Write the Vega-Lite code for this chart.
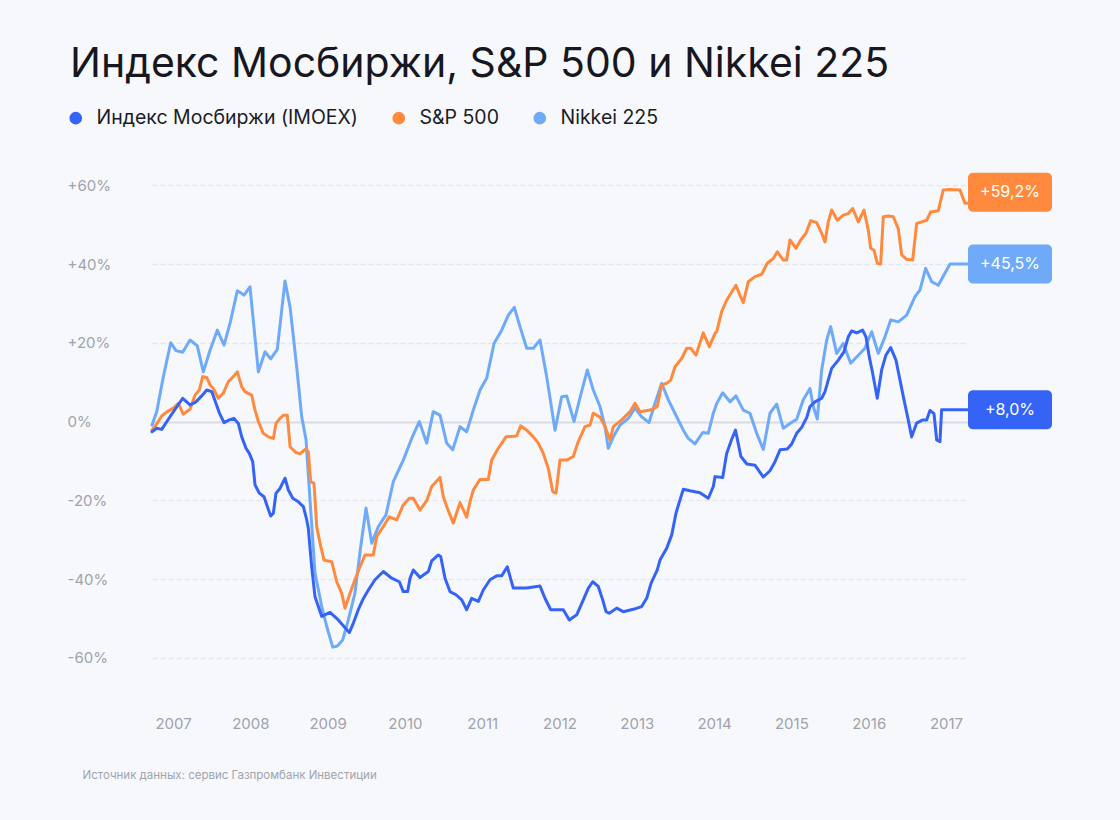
{
"$schema": "https://vega.github.io/schema/vega-lite/v6.json",
"width": 816, "height": 567,
"autosize": {"type": "none"},
"padding": {"left": 152, "top": 138, "right": 152, "bottom": 115},
"background": "#f7f8fc",
"config": {"view": {"stroke": null}, "font": "Inter"},
"title": {"text": "Индекс Мосбиржи, S&P 500 и Nikkei 225", "anchor": "start", "frame": "group", "dx": -82, "fontSize": 41, "font": "Inter", "fontWeight": 400, "color": "#16171f", "offset": 22},
"datasets": {
"imoex": [
{"t":2006.728,"v":-2.6},{"t":2006.789,"v":-1.7},{"t":2006.854,"v":-2.0},{"t":2006.961,"v":1.2},{"t":2007.125,"v":5.9},{"t":2007.220,"v":4.2},{"t":2007.298,"v":5.0},{"t":2007.371,"v":6.5},{"t":2007.436,"v":8.0},{"t":2007.501,"v":7.6},{"t":2007.556,"v":4.6},{"t":2007.599,"v":2.2},{"t":2007.660,"v":-0.3},{"t":2007.728,"v":0.4},{"t":2007.789,"v":0.8},{"t":2007.845,"v":-0.5},{"t":2007.889,"v":-3.9},{"t":2007.944,"v":-6.8},{"t":2007.987,"v":-8.1},{"t":2008.031,"v":-10.2},{"t":2008.061,"v":-16.1},{"t":2008.116,"v":-18.2},{"t":2008.177,"v":-19.1},{"t":2008.220,"v":-21.6},{"t":2008.264,"v":-24.0},{"t":2008.298,"v":-23.3},{"t":2008.332,"v":-18.2},{"t":2008.384,"v":-17.0},{"t":2008.449,"v":-14.4},{"t":2008.492,"v":-17.4},{"t":2008.549,"v":-19.5},{"t":2008.621,"v":-20.4},{"t":2008.686,"v":-21.6},{"t":2008.730,"v":-25.0},{"t":2008.750,"v":-27.1},{"t":2008.794,"v":-36.9},{"t":2008.837,"v":-44.5},{"t":2008.880,"v":-47.0},{"t":2008.924,"v":-49.5},{"t":2009.031,"v":-48.5},{"t":2009.138,"v":-50.4},{"t":2009.281,"v":-53.6},{"t":2009.333,"v":-51.2},{"t":2009.397,"v":-47.8},{"t":2009.454,"v":-45.3},{"t":2009.527,"v":-42.8},{"t":2009.613,"v":-40.2},{"t":2009.721,"v":-38.1},{"t":2009.829,"v":-39.8},{"t":2009.928,"v":-40.7},{"t":2009.979,"v":-43.2},{"t":2010.036,"v":-43.2},{"t":2010.066,"v":-39.8},{"t":2010.109,"v":-37.7},{"t":2010.195,"v":-39.6},{"t":2010.303,"v":-38.1},{"t":2010.347,"v":-35.4},{"t":2010.432,"v":-33.9},{"t":2010.463,"v":-34.3},{"t":2010.519,"v":-39.8},{"t":2010.583,"v":-43.2},{"t":2010.661,"v":-44.0},{"t":2010.735,"v":-45.3},{"t":2010.799,"v":-47.8},{"t":2010.864,"v":-44.9},{"t":2010.950,"v":-45.7},{"t":2011.014,"v":-42.8},{"t":2011.101,"v":-40.2},{"t":2011.188,"v":-39.2},{"t":2011.252,"v":-39.2},{"t":2011.325,"v":-36.9},{"t":2011.402,"v":-42.3},{"t":2011.576,"v":-42.3},{"t":2011.748,"v":-41.8},{"t":2011.812,"v":-44.9},{"t":2011.886,"v":-47.8},{"t":2012.049,"v":-47.8},{"t":2012.127,"v":-50.4},{"t":2012.223,"v":-49.1},{"t":2012.308,"v":-45.3},{"t":2012.373,"v":-42.3},{"t":2012.430,"v":-40.7},{"t":2012.502,"v":-41.9},{"t":2012.559,"v":-45.3},{"t":2012.602,"v":-48.3},{"t":2012.644,"v":-48.7},{"t":2012.740,"v":-47.4},{"t":2012.825,"v":-48.3},{"t":2012.955,"v":-47.7},{"t":2013.063,"v":-47.0},{"t":2013.128,"v":-44.9},{"t":2013.184,"v":-41.1},{"t":2013.265,"v":-37.7},{"t":2013.300,"v":-35.2},{"t":2013.387,"v":-32.2},{"t":2013.452,"v":-28.8},{"t":2013.507,"v":-23.3},{"t":2013.559,"v":-19.9},{"t":2013.602,"v":-17.2},{"t":2013.688,"v":-17.6},{"t":2013.818,"v":-18.1},{"t":2013.925,"v":-19.5},{"t":2013.990,"v":-16.5},{"t":2014.012,"v":-14.0},{"t":2014.111,"v":-14.2},{"t":2014.163,"v":-8.1},{"t":2014.228,"v":-4.5},{"t":2014.277,"v":-2.2},{"t":2014.347,"v":-8.9},{"t":2014.424,"v":-10.8},{"t":2014.529,"v":-11.1},{"t":2014.637,"v":-14.1},{"t":2014.723,"v":-12.5},{"t":2014.788,"v":-10.2},{"t":2014.853,"v":-7.2},{"t":2014.947,"v":-7.0},{"t":2015.004,"v":-5.7},{"t":2015.069,"v":-3.0},{"t":2015.133,"v":-1.5},{"t":2015.198,"v":1.0},{"t":2015.241,"v":3.8},{"t":2015.305,"v":5.0},{"t":2015.392,"v":5.9},{"t":2015.435,"v":7.6},{"t":2015.477,"v":10.5},{"t":2015.521,"v":13.5},{"t":2015.607,"v":15.6},{"t":2015.680,"v":17.7},{"t":2015.736,"v":21.5},{"t":2015.780,"v":23.0},{"t":2015.845,"v":22.5},{"t":2015.922,"v":23.2},{"t":2015.965,"v":21.5},{"t":2016.008,"v":16.4},{"t":2016.052,"v":12.2},{"t":2016.111,"v":5.9},{"t":2016.168,"v":13.1},{"t":2016.224,"v":16.9},{"t":2016.285,"v":18.8},{"t":2016.353,"v":15.6},{"t":2016.405,"v":10.5},{"t":2016.457,"v":5.5},{"t":2016.512,"v":0.4},{"t":2016.556,"v":-3.9},{"t":2016.621,"v":-0.4},{"t":2016.699,"v":0.4},{"t":2016.750,"v":0.4},{"t":2016.793,"v":2.8},{"t":2016.845,"v":2.0},{"t":2016.880,"v":-4.7},{"t":2016.922,"v":-5.1},{"t":2016.944,"v":3.0},{"t":2017.285,"v":3.0}
],
"sp": [
{"t":2006.728,"v":-2.2},{"t":2006.780,"v":-0.9},{"t":2006.854,"v":1.4},{"t":2006.926,"v":2.5},{"t":2007.004,"v":3.4},{"t":2007.069,"v":4.6},{"t":2007.133,"v":1.9},{"t":2007.220,"v":3.1},{"t":2007.285,"v":6.7},{"t":2007.340,"v":8.0},{"t":2007.384,"v":11.4},{"t":2007.436,"v":11.2},{"t":2007.479,"v":9.3},{"t":2007.521,"v":8.4},{"t":2007.586,"v":5.9},{"t":2007.651,"v":7.2},{"t":2007.715,"v":10.1},{"t":2007.780,"v":11.4},{"t":2007.832,"v":12.6},{"t":2007.889,"v":8.8},{"t":2007.931,"v":7.6},{"t":2008.018,"v":6.7},{"t":2008.061,"v":2.9},{"t":2008.104,"v":0.0},{"t":2008.168,"v":-3.0},{"t":2008.233,"v":-3.9},{"t":2008.298,"v":-4.3},{"t":2008.332,"v":-0.5},{"t":2008.375,"v":0.6},{"t":2008.427,"v":1.6},{"t":2008.479,"v":1.6},{"t":2008.514,"v":-6.4},{"t":2008.591,"v":-7.9},{"t":2008.643,"v":-8.2},{"t":2008.708,"v":-7.1},{"t":2008.750,"v":-7.7},{"t":2008.781,"v":-15.3},{"t":2008.824,"v":-15.7},{"t":2008.859,"v":-26.7},{"t":2008.902,"v":-30.9},{"t":2008.953,"v":-35.2},{"t":2009.053,"v":-35.6},{"t":2009.118,"v":-40.7},{"t":2009.182,"v":-43.6},{"t":2009.225,"v":-47.4},{"t":2009.290,"v":-43.6},{"t":2009.354,"v":-40.2},{"t":2009.419,"v":-36.9},{"t":2009.484,"v":-33.9},{"t":2009.591,"v":-33.9},{"t":2009.635,"v":-29.2},{"t":2009.721,"v":-26.7},{"t":2009.798,"v":-24.2},{"t":2009.894,"v":-25.0},{"t":2009.979,"v":-21.2},{"t":2010.057,"v":-19.5},{"t":2010.109,"v":-19.5},{"t":2010.195,"v":-22.5},{"t":2010.282,"v":-20.1},{"t":2010.347,"v":-16.5},{"t":2010.454,"v":-14.2},{"t":2010.497,"v":-19.1},{"t":2010.541,"v":-21.6},{"t":2010.626,"v":-25.8},{"t":2010.713,"v":-20.6},{"t":2010.799,"v":-24.3},{"t":2010.842,"v":-20.4},{"t":2010.885,"v":-17.4},{"t":2010.972,"v":-14.7},{"t":2011.079,"v":-14.7},{"t":2011.123,"v":-9.8},{"t":2011.208,"v":-6.8},{"t":2011.308,"v":-3.9},{"t":2011.446,"v":-3.7},{"t":2011.498,"v":-1.1},{"t":2011.576,"v":-2.2},{"t":2011.661,"v":-3.9},{"t":2011.726,"v":-5.5},{"t":2011.790,"v":-8.1},{"t":2011.855,"v":-11.9},{"t":2011.912,"v":-17.8},{"t":2011.955,"v":-18.2},{"t":2012.006,"v":-9.8},{"t":2012.093,"v":-9.8},{"t":2012.178,"v":-8.9},{"t":2012.243,"v":-5.1},{"t":2012.330,"v":-1.3},{"t":2012.395,"v":-0.9},{"t":2012.437,"v":2.1},{"t":2012.524,"v":1.1},{"t":2012.589,"v":-1.3},{"t":2012.653,"v":-4.7},{"t":2012.696,"v":-1.3},{"t":2012.805,"v":0.4},{"t":2012.912,"v":2.5},{"t":2012.977,"v":4.6},{"t":2013.041,"v":2.5},{"t":2013.171,"v":2.9},{"t":2013.265,"v":3.8},{"t":2013.322,"v":9.3},{"t":2013.387,"v":9.7},{"t":2013.439,"v":10.5},{"t":2013.494,"v":13.9},{"t":2013.581,"v":16.0},{"t":2013.646,"v":18.6},{"t":2013.697,"v":18.6},{"t":2013.766,"v":16.9},{"t":2013.860,"v":22.5},{"t":2013.938,"v":19.0},{"t":2014.012,"v":22.4},{"t":2014.034,"v":22.8},{"t":2014.098,"v":27.9},{"t":2014.163,"v":30.8},{"t":2014.228,"v":32.9},{"t":2014.283,"v":34.6},{"t":2014.326,"v":32.5},{"t":2014.378,"v":30.2},{"t":2014.443,"v":35.5},{"t":2014.529,"v":36.8},{"t":2014.616,"v":37.4},{"t":2014.688,"v":40.2},{"t":2014.766,"v":41.4},{"t":2014.818,"v":43.1},{"t":2014.895,"v":41.0},{"t":2014.939,"v":41.0},{"t":2014.982,"v":46.1},{"t":2015.060,"v":44.0},{"t":2015.120,"v":46.1},{"t":2015.189,"v":47.8},{"t":2015.250,"v":51.0},{"t":2015.327,"v":50.5},{"t":2015.392,"v":47.8},{"t":2015.435,"v":45.6},{"t":2015.477,"v":50.7},{"t":2015.521,"v":53.7},{"t":2015.594,"v":51.1},{"t":2015.671,"v":52.4},{"t":2015.736,"v":52.8},{"t":2015.793,"v":54.1},{"t":2015.866,"v":50.7},{"t":2015.939,"v":53.7},{"t":2015.995,"v":48.6},{"t":2016.026,"v":44.0},{"t":2016.069,"v":43.5},{"t":2016.111,"v":40.2},{"t":2016.155,"v":40.0},{"t":2016.189,"v":52.0},{"t":2016.254,"v":52.2},{"t":2016.318,"v":52.0},{"t":2016.383,"v":49.0},{"t":2016.427,"v":42.3},{"t":2016.492,"v":41.2},{"t":2016.569,"v":41.0},{"t":2016.621,"v":50.3},{"t":2016.686,"v":50.7},{"t":2016.750,"v":51.1},{"t":2016.802,"v":53.2},{"t":2016.900,"v":53.5},{"t":2016.965,"v":58.8},{"t":2017.052,"v":58.9},{"t":2017.181,"v":58.8},{"t":2017.246,"v":55.4},{"t":2017.285,"v":55.4}
],
"nikkei": [
{"t":2006.728,"v":-0.9},{"t":2006.789,"v":2.5},{"t":2006.875,"v":11.4},{"t":2006.970,"v":20.0},{"t":2007.039,"v":18.0},{"t":2007.125,"v":17.6},{"t":2007.220,"v":20.7},{"t":2007.314,"v":19.2},{"t":2007.392,"v":12.6},{"t":2007.479,"v":18.1},{"t":2007.573,"v":23.2},{"t":2007.660,"v":19.4},{"t":2007.737,"v":24.9},{"t":2007.832,"v":33.2},{"t":2007.919,"v":32.1},{"t":2007.996,"v":34.2},{"t":2008.104,"v":12.6},{"t":2008.190,"v":17.7},{"t":2008.264,"v":15.9},{"t":2008.349,"v":18.3},{"t":2008.449,"v":35.7},{"t":2008.514,"v":29.1},{"t":2008.600,"v":13.9},{"t":2008.665,"v":1.2},{"t":2008.721,"v":-4.7},{"t":2008.772,"v":-19.9},{"t":2008.837,"v":-38.5},{"t":2008.924,"v":-47.0},{"t":2008.988,"v":-52.0},{"t":2009.066,"v":-57.3},{"t":2009.126,"v":-57.0},{"t":2009.195,"v":-55.5},{"t":2009.268,"v":-50.4},{"t":2009.354,"v":-43.6},{"t":2009.428,"v":-31.8},{"t":2009.497,"v":-22.0},{"t":2009.571,"v":-30.9},{"t":2009.656,"v":-26.7},{"t":2009.755,"v":-23.7},{"t":2009.850,"v":-15.3},{"t":2009.979,"v":-9.8},{"t":2010.088,"v":-4.3},{"t":2010.186,"v":0.0},{"t":2010.238,"v":-3.0},{"t":2010.282,"v":-5.5},{"t":2010.367,"v":2.5},{"t":2010.454,"v":1.6},{"t":2010.541,"v":-5.5},{"t":2010.618,"v":-7.2},{"t":2010.713,"v":-1.3},{"t":2010.799,"v":-2.6},{"t":2010.885,"v":2.9},{"t":2010.972,"v":8.0},{"t":2011.058,"v":11.0},{"t":2011.153,"v":19.8},{"t":2011.252,"v":23.2},{"t":2011.338,"v":27.0},{"t":2011.415,"v":29.0},{"t":2011.489,"v":24.1},{"t":2011.576,"v":18.6},{"t":2011.661,"v":18.6},{"t":2011.748,"v":20.7},{"t":2011.834,"v":11.4},{"t":2011.942,"v":-2.2},{"t":2012.028,"v":6.3},{"t":2012.093,"v":6.5},{"t":2012.188,"v":0.0},{"t":2012.274,"v":6.7},{"t":2012.360,"v":13.1},{"t":2012.437,"v":8.0},{"t":2012.524,"v":3.8},{"t":2012.589,"v":-1.3},{"t":2012.631,"v":-6.8},{"t":2012.696,"v":-3.9},{"t":2012.783,"v":-0.9},{"t":2012.890,"v":0.8},{"t":2012.977,"v":3.4},{"t":2013.063,"v":1.2},{"t":2013.158,"v":-0.3},{"t":2013.235,"v":4.6},{"t":2013.322,"v":9.7},{"t":2013.408,"v":5.5},{"t":2013.516,"v":1.2},{"t":2013.602,"v":-2.2},{"t":2013.666,"v":-4.3},{"t":2013.753,"v":-5.7},{"t":2013.853,"v":-2.8},{"t":2013.925,"v":-3.0},{"t":2013.990,"v":2.1},{"t":2014.034,"v":4.6},{"t":2014.111,"v":7.3},{"t":2014.206,"v":5.0},{"t":2014.283,"v":6.5},{"t":2014.378,"v":2.9},{"t":2014.464,"v":2.1},{"t":2014.551,"v":-3.0},{"t":2014.637,"v":-7.1},{"t":2014.723,"v":2.1},{"t":2014.810,"v":4.4},{"t":2014.895,"v":-1.7},{"t":2014.982,"v":-0.5},{"t":2015.069,"v":0.6},{"t":2015.154,"v":5.5},{"t":2015.241,"v":8.4},{"t":2015.283,"v":3.8},{"t":2015.335,"v":0.6},{"t":2015.392,"v":13.1},{"t":2015.457,"v":20.7},{"t":2015.508,"v":24.1},{"t":2015.586,"v":17.3},{"t":2015.671,"v":19.8},{"t":2015.767,"v":14.8},{"t":2015.845,"v":16.4},{"t":2015.952,"v":18.6},{"t":2016.039,"v":22.8},{"t":2016.124,"v":17.3},{"t":2016.211,"v":21.5},{"t":2016.285,"v":25.8},{"t":2016.383,"v":25.3},{"t":2016.492,"v":27.0},{"t":2016.599,"v":31.7},{"t":2016.664,"v":33.4},{"t":2016.737,"v":38.9},{"t":2016.815,"v":35.5},{"t":2016.900,"v":34.6},{"t":2016.974,"v":37.2},{"t":2017.052,"v":40.0},{"t":2017.285,"v":40.0}
],
"ends": [
{"s":"Индекс Мосбиржи (IMOEX)","t":2017.285,"v":3.0,"label":"+8,0%"},
{"s":"S&P 500","t":2017.285,"v":58.2,"label":"+59,2%"},
{"s":"Nikkei 225","t":2017.285,"v":40.0,"label":"+45,5%"}
]
},
"layer": [
{"data": {"name": "nikkei"},
 "mark": {"type": "line", "strokeWidth": 3, "strokeJoin": "round", "strokeCap": "round"},
 "encoding": {
  "x": {"field": "t", "type": "quantitative",
    "scale": {"domain": [2006.728, 2017.285], "nice": false, "zero": false},
    "axis": {"values": [2007,2008,2009,2010,2011,2012,2013,2014,2015,2016,2017], "format": "d", "labelFontSize": 15, "labelFont": "Inter", "labelColor": "#9ea3ad", "labelPadding": 11, "labelFlush": false, "ticks": false, "domain": false, "grid": false,
      "title": "Источник данных: сервис Газпромбанк Инвестиции", "titleFont": "Inter", "titleFontSize": 11.5, "titleFontWeight": 400, "titleColor": "#a0a4ad", "titleAnchor": "start", "titleAlign": "left", "titleX": -70, "titleY": 70, "titleBaseline": "middle"}},
  "y": {"field": "v", "type": "quantitative",
    "scale": {"domain": [-72, 72], "nice": false, "zero": false},
    "axis": {"values": [-60,-40,-20,0,20,40,60], "labelExpr": "datum.value > 0 ? '+' + datum.value + '%' : datum.value + '%'", "labelAlign": "left", "labelPadding": 85, "ticks": false, "tickSize": 0, "domain": false, "labelFontSize": 15, "labelFont": "Inter", "labelColor": "#9ea3ad", "title": null, "grid": true,
      "gridColor": {"condition": {"test": "datum.value === 0", "value": "#d9dbe0"}, "value": "#e4e6eb"},
      "gridDash": {"condition": {"test": "datum.value === 0", "value": []}, "value": [5, 3]},
      "gridWidth": {"condition": {"test": "datum.value === 0", "value": 2}, "value": 1.3}}},
  "color": {"datum": "Nikkei 225", "type": "nominal", "title": null,
    "scale": {"domain": ["Индекс Мосбиржи (IMOEX)", "S&P 500", "Nikkei 225"], "range": ["#3463f5", "#ff8a3d", "#6eaaf8"]},
    "legend": {"orient": "none", "legendX": -86, "legendY": -30, "direction": "horizontal", "columns": 3, "title": null, "symbolType": "circle", "symbolSize": 160, "symbolStrokeWidth": 0, "labelFontSize": 19.5, "labelFont": "Inter", "labelColor": "#1b1c24", "labelLimit": 0, "columnPadding": 31, "labelOffset": 11, "padding": 0,
      "encode": {"symbols": {"update": {"fill": {"scale": "color", "field": "value"}, "fillOpacity": {"value": 1}, "strokeWidth": {"value": 0}}}}}}
 }},
{"data": {"name": "sp"},
 "mark": {"type": "line", "strokeWidth": 3, "strokeJoin": "round", "strokeCap": "round"},
 "encoding": {"x": {"field": "t", "type": "quantitative"}, "y": {"field": "v", "type": "quantitative"}, "color": {"datum": "S&P 500", "type": "nominal", "title": null}}},
{"data": {"name": "imoex"},
 "mark": {"type": "line", "strokeWidth": 3, "strokeJoin": "round", "strokeCap": "round"},
 "encoding": {"x": {"field": "t", "type": "quantitative"}, "y": {"field": "v", "type": "quantitative"}, "color": {"datum": "Индекс Мосбиржи (IMOEX)", "type": "nominal", "title": null}}},
{"data": {"name": "ends"},
 "mark": {"type": "rect", "width": 84, "height": 39, "xOffset": 42, "cornerRadius": 5},
 "encoding": {"x": {"field": "t", "type": "quantitative"}, "y": {"field": "v", "type": "quantitative"}, "color": {"field": "s", "type": "nominal", "title": null}}},
{"data": {"name": "ends"},
 "mark": {"type": "text", "xOffset": 42, "fontSize": 16, "font": "Inter", "color": "white", "align": "center", "baseline": "middle"},
 "encoding": {"x": {"field": "t", "type": "quantitative"}, "y": {"field": "v", "type": "quantitative"}, "text": {"field": "label"}}}
]
}
